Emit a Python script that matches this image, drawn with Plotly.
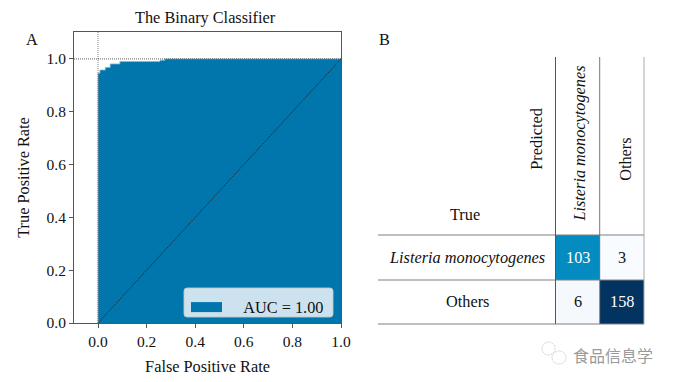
import plotly.graph_objects as go

# ROC curve (step vertices)
fpr = [0.0, 0.0, 0.008, 0.008, 0.03, 0.03, 0.05, 0.05, 0.09, 0.09, 0.255, 0.255, 0.275, 0.275, 1.0]
tpr = [0.0, 0.946, 0.946, 0.958, 0.958, 0.968, 0.968, 0.981, 0.981, 0.99, 0.99, 0.995, 0.995, 1.0, 1.0]
diag_x = [0, 1]
diag_y = [0, 1]
legend_label = "AUC = 1.00"

# Confusion matrix
pred_labels = ["Listeria monocytogenes", "Others"]
true_labels = ["Listeria monocytogenes", "Others"]
matrix = [[103, 3], [6, 158]]

INK = "#111111"
FONT = "Liberation Serif"
FS = 16.3
W, H = 675, 382
def px(x): return x / W
def py(y): return 1 - y / H

fig = go.Figure()
fig.add_trace(go.Scatter(x=fpr, y=tpr, mode="lines", line=dict(color="#7fb8d6", width=0.8),
                         fill="tozeroy", fillcolor="#0076ad", showlegend=False, hoverinfo="skip"))
fig.add_trace(go.Scatter(x=diag_x, y=diag_y, mode="lines", line=dict(color="#222222", width=0.8, dash="2px,1px"),
                         showlegend=False, hoverinfo="skip"))
fig.add_trace(go.Scatter(x=[0, 0], y=[0, 1.102], mode="lines", line=dict(color="#666666", width=0.8, dash="1px,1px"),
                         showlegend=False, hoverinfo="skip"))
fig.add_trace(go.Scatter(x=[-0.0988, 1], y=[1, 1], mode="lines", line=dict(color="#333333", width=0.8, dash="1px,1px"),
                         showlegend=False, hoverinfo="skip"))
# legend entry for the filled area, name padded to the gap the reference leaves after its swatch
fig.add_trace(go.Scatter(x=[None], y=[None], mode="lines", line=dict(color="#0076ad", width=11),
                         name="\u00a0" * 4 + legend_label, showlegend=True, hoverinfo="skip"))

fig.add_trace(go.Heatmap(z=matrix, x=pred_labels, y=true_labels, xaxis="x2", yaxis="y2",
                         colorscale=[[0, "#f8fbff"], [0.02, "#f5f9fe"], [0.645, "#048cc0"], [1, "#023361"]],
                         zmin=3, zmax=158, showscale=False, hoverinfo="skip"))

axis_common = dict(showgrid=False, zeroline=False, showline=True, linecolor="#555555", linewidth=1,
                   mirror=True, ticks="outside", ticklen=4, tickcolor="#555555", automargin=False,
                   tickfont=dict(family=FONT, size=15.5, color=INK))
fig.update_layout(
    width=W, height=H, autosize=False, margin=dict(l=0, r=0, t=0, b=0, autoexpand=False),
    paper_bgcolor="white", plot_bgcolor="white",
    font=dict(family=FONT, size=FS, color=INK),
    xaxis=dict(domain=[px(74), px(341)], range=[-0.0988, 1.0], tickvals=[0, .2, .4, .6, .8, 1],
               ticktext=["0.0", "0.2", "0.4", "0.6", "0.8", "1.0"],
               title=dict(text="False Positive Rate", standoff=11, font=dict(family=FONT, size=FS, color=INK)), **axis_common),
    yaxis=dict(domain=[py(323), py(32)], range=[0, 1.102], tickvals=[0, .2, .4, .6, .8, 1],
               ticktext=["0.0", "0.2", "0.4", "0.6", "0.8", "1.0"],
               title=dict(text="True Positive Rate", standoff=12, font=dict(family=FONT, size=FS, color=INK)), **axis_common),
    xaxis2=dict(domain=[px(555.5), px(644)], anchor="y2", side="top", showticklabels=False, ticks="",
                showline=False, showgrid=False, zeroline=False, type="category"),
    yaxis2=dict(domain=[py(324), py(235)], anchor="x2", autorange="reversed", showticklabels=False, ticks="",
                showline=False, showgrid=False, zeroline=False, type="category"),
    legend=dict(x=px(186), y=py(290), xanchor="left", yanchor="top", bgcolor="rgba(0,0,0,0)",
                borderwidth=0, itemwidth=31, itemclick=False, itemdoubleclick=False,
                font=dict(family=FONT, size=FS, color=INK)),
)

def label(text, x, y, xref="paper", yref="paper", angle=0, size=FS, color=INK, family=FONT, xshift=0):
    fig.add_annotation(text=text, x=x, y=y, xref=xref, yref=yref, xanchor="center", yanchor="middle",
                       showarrow=False, textangle=angle, xshift=xshift,
                       font=dict(family=family, size=size, color=color))

label("The Binary Classifier", px(205), py(17))
label("A", px(32), py(39))
label("B", px(384), py(39))
label("Predicted", px(535.7), py(139), angle=-90)
label("True", px(465), py(214))

# heatmap labels and values, positioned through the heatmap axes
label("<i>" + true_labels[0] + "</i>", px(467), true_labels[0], yref="y2")
label(true_labels[1], px(467), true_labels[1], yref="y2")
label("<i>" + pred_labels[0] + "</i>", pred_labels[0], py(143.5), xref="x2", angle=-90, xshift=1.5)
label(pred_labels[1], pred_labels[1], py(159), xref="x2", angle=-90, xshift=3)
for i, row in enumerate(matrix):
    for j, v in enumerate(row):
        label(str(v), pred_labels[j], true_labels[i], xref="x2", yref="y2", color="white" if v > 60 else INK)

# table rules
rule = dict(color="#808080", width=1)
for y in (235, 280, 324):
    fig.add_shape(type="line", xref="paper", yref="paper", x0=px(378), x1=px(644), y0=py(y), y1=py(y), line=rule)
for x, c in ((555.5, "#555555"), (599.7, "#777777"), (644, "#aaaaaa")):
    fig.add_shape(type="line", xref="paper", yref="paper", x0=px(x), x1=px(x), y0=py(57), y1=py(324),
                  line=dict(color=c, width=1))

# rounded legend panel behind the native legend
l, r, t, b, c = px(184), px(333), py(288), py(317), 3
dx, dy = c / W, c / H
fig.add_shape(type="path", xref="paper", yref="paper",
              path=(f"M {l+dx} {t} L {r-dx} {t} Q {r} {t} {r} {t-dy} L {r} {b+dy} Q {r} {b} {r-dx} {b} "
                    f"L {l+dx} {b} Q {l} {b} {l} {b+dy} L {l} {t-dy} Q {l} {t} {l+dx} {t} Z"),
              fillcolor="rgba(255,255,255,0.8)", line=dict(color="rgba(190,200,205,0.9)", width=1))

# watermark
label("食品信息学", px(613), py(355), size=16, color="#9a9a9a", family="Noto Sans CJK SC")
for x0, y0, x1, y1 in ((542, 342, 555, 355), (552, 351, 566, 364)):
    fig.add_shape(type="circle", xref="paper", yref="paper", x0=px(x0), x1=px(x1), y0=py(y0), y1=py(y1),
                  line=dict(color="#c4c4c4", width=0.8, dash="2px,1px"))

fig.write_html("out.html", post_script="document.body.style.margin='0';", config={"displayModeBar": False})
